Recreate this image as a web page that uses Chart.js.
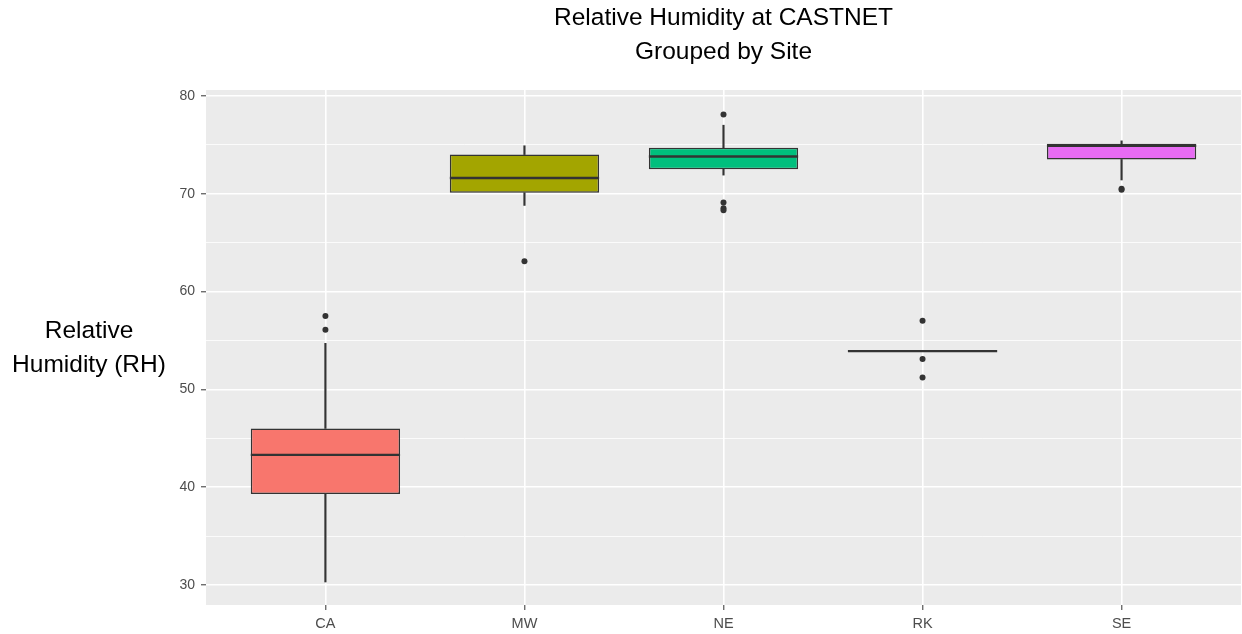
<!DOCTYPE html>
<html>
<head>
<meta charset="utf-8">
<script src="https://cdn.jsdelivr.net/npm/chart.js@4"></script>
<style>
  html, body { margin: 0; padding: 0; background: #ffffff; }
  #wrap { width: 1242px; height: 634px; position: relative; }
</style>
</head>
<body>
<div id="wrap"><canvas id="c" width="1242" height="634"></canvas></div>
<script>
// ---- data ----
const categories = ['CA', 'MW', 'NE', 'RK', 'SE'];
const lowerWhisker = [30.3, 68.8, 71.9, 53.9, 71.4];
const q1Values     = [39.3, 70.1, 72.5, 53.9, 73.5];
const medianValues = [43.3, 71.6, 73.8, 53.9, 74.9];
const q3Values     = [46.0, 74.0, 74.7, 53.9, 75.1];
const upperWhisker = [54.7, 74.9, 77.0, 53.9, 75.4];
const outliersCA = [57.5, 56.1];
const outliersMW = [63.1];
const outliersNE = [78.1, 69.1, 68.5, 68.3];
const outliersRK = [57.0, 53.1, 51.2];
const outliersSE = [70.5, 70.4];
const boxColors = ['#F8766D', '#A3A500', '#00BF7D', '#00B0F6', '#E76BF3'];
const yTickValues = [30, 35, 40, 45, 50, 55, 60, 65, 70, 75, 80];
const yMajorTicks = [30, 40, 50, 60, 70, 80];
const titleLines = ['Relative Humidity at CASTNET', 'Grouped by Site'];
const yTitleLines = ['Relative', 'Humidity (RH)'];

// ---- build datasets from the arrays ----
const xPos = categories.map((_, i) => i + 1);
const outlierGroups = [outliersCA, outliersMW, outliersNE, outliersRK, outliersSE];
const outlierPoints = [];
outlierGroups.forEach((g, i) => g.forEach(v => outlierPoints.push({x: xPos[i], y: v})));

const FONT = '"Liberation Sans", Arial, sans-serif';
const INK = '#333333';

const boxHalfWidth = (ctx) => {
  const xs = ctx.chart.scales.x;
  const w = (xs.getPixelForValue(2) - xs.getPixelForValue(1)) * 0.75 / 2;
  return isFinite(w) && w > 0 ? w : 0;
};

const panelBg = {
  id: 'panelBg',
  beforeDraw(chart) {
    const {ctx, chartArea: a} = chart;
    ctx.save();
    ctx.fillStyle = '#EBEBEB';
    ctx.fillRect(a.left, a.top, a.right - a.left, a.bottom - a.top);
    ctx.restore();
  }
};

const yTitle = {
  id: 'yTitle',
  afterDraw(chart) {
    const {ctx, chartArea: a} = chart;
    const cy = (a.top + a.bottom) / 2;
    ctx.save();
    ctx.fillStyle = '#000000';
    ctx.font = '24.5px ' + FONT;
    ctx.textAlign = 'center';
    ctx.textBaseline = 'middle';
    ctx.fillText(yTitleLines[0], 89, cy - 16);
    ctx.fillText(yTitleLines[1], 89, cy + 18);
    ctx.restore();
  }
};

new Chart(document.getElementById('c'), {
  type: 'bar',
  data: {
    datasets: [
      {
        label: 'lower whisker',
        data: xPos.map((x, i) => ({x, y: [lowerWhisker[i], q1Values[i]]})),
        backgroundColor: INK,
        barThickness: 1.5,
        grouped: false,
        order: 5
      },
      {
        label: 'upper whisker',
        data: xPos.map((x, i) => ({x, y: [q3Values[i], upperWhisker[i]]})),
        backgroundColor: INK,
        barThickness: 1.5,
        grouped: false,
        order: 4
      },
      {
        label: 'box',
        data: xPos.map((x, i) => ({x, y: [q1Values[i], q3Values[i]]})),
        backgroundColor: boxColors,
        borderColor: INK,
        borderWidth: 1.5,
        borderSkipped: false,
        categoryPercentage: 1,
        barPercentage: 0.75,
        grouped: false,
        order: 3
      },
      {
        type: 'line',
        label: 'median',
        data: xPos.map((x, i) => ({x, y: medianValues[i]})),
        showLine: false,
        pointStyle: 'line',
        pointRadius: boxHalfWidth,
        pointBorderWidth: 2.4,
        pointBorderColor: INK,
        pointBackgroundColor: INK,
        order: 2
      },
      {
        type: 'line',
        label: 'outliers',
        data: outlierPoints,
        showLine: false,
        pointStyle: 'circle',
        pointRadius: 3,
        pointBorderWidth: 0,
        pointBackgroundColor: INK,
        order: 1
      }
    ]
  },
  options: {
    responsive: false,
    animation: false,
    events: [],
    layout: { autoPadding: false, padding: { left: 0, right: 1, top: 0, bottom: 0 } },
    plugins: {
      legend: { display: false },
      tooltip: { enabled: false },
      title: {
        display: true,
        text: titleLines,
        fullSize: false,
        color: '#000000',
        font: { family: FONT, size: 24.5, weight: 'normal', lineHeight: 34 / 24.5 },
        padding: { top: 1, bottom: 21 }
      }
    },
    scales: {
      x: {
        type: 'linear',
        min: 0.4,
        max: 5.6,
        offset: false,
        afterBuildTicks: (s) => { s.ticks = xPos.map(v => ({value: v})); },
        afterFit: (s) => { s.height = 29; s.paddingLeft = 0; s.paddingRight = 0; },
        grid: {
          color: '#FFFFFF',
          lineWidth: 1.6,
          tickColor: INK,
          tickLength: 5,
          tickWidth: 1,
          offset: false
        },
        border: { display: false },
        ticks: {
          padding: 5,
          color: '#4D4D4D',
          font: { family: FONT, size: 14.5 },
          maxRotation: 0,
          autoSkip: false,
          callback: (v) => categories[Math.round(v) - 1] || ''
        }
      },
      y: {
        type: 'linear',
        min: 27.95,
        max: 80.6,
        afterBuildTicks: (s) => { s.ticks = yTickValues.map(v => ({value: v})); },
        afterFit: (s) => { s.width = 206; },
        grid: {
          color: '#FFFFFF',
          lineWidth: (c) => (c.tick && yMajorTicks.includes(c.tick.value)) ? 1.6 : 0.8,
          tickColor: (c) => (c.tick && yMajorTicks.includes(c.tick.value)) ? INK : 'rgba(0,0,0,0)',
          tickLength: 5,
          tickWidth: 1
        },
        border: { display: false },
        ticks: {
          padding: 6,
          color: '#4D4D4D',
          font: { family: FONT, size: 14 },
          autoSkip: false,
          callback: (v) => yMajorTicks.includes(v) ? String(v) : ''
        }
      }
    }
  },
  plugins: [panelBg, yTitle]
});
</script>
</body>
</html>
